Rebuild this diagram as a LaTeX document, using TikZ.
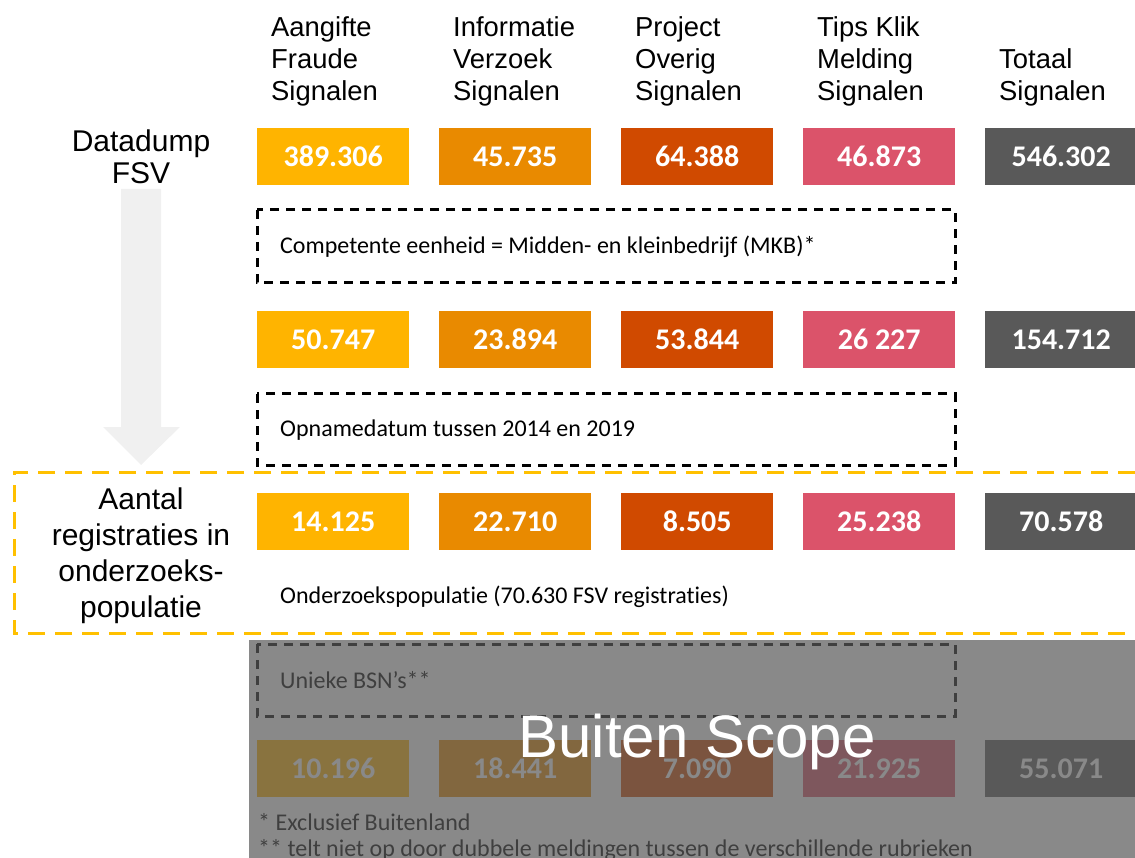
\documentclass[tikz,border=0pt]{standalone}
\usepackage{fontspec}
\setmainfont{Liberation Sans}
\newfontfamily\calibri[Ligatures=NoCommon]{Carlito}
\usetikzlibrary{positioning}

\definecolor{fsvgeel}{HTML}{FFB400}
\definecolor{fsvoranje}{HTML}{E98A00}
\definecolor{fsvrood}{HTML}{D04A00}
\definecolor{fsvroze}{HTML}{DB536A}
\definecolor{fsvgrijs}{HTML}{595959}
\definecolor{kadergeel}{HTML}{FFC000}
\definecolor{pijlgrijs}{HTML}{F0F0F0}

\begin{document}
\begin{tikzpicture}[x=1pt, y=-1pt]
		\tikzset{
			getal/.style={anchor=north west, minimum width=152pt, minimum height=57pt, inner sep=0pt, text=white, font=\calibri\bfseries\fontsize{30}{32}\selectfont},
			kop/.style={anchor=west, align=left, inner sep=0pt, font=\fontsize{27.4}{32}\selectfont},
			label/.style={align=center, inner sep=0pt, font=\fontsize{30}{36}\selectfont},
			filter/.style={draw=black, line width=3pt, dash pattern=on 9pt off 7pt},
			filtertekst/.style={anchor=west, inner sep=0pt, font=\calibri\fontsize{24}{28}\selectfont},
			kader/.style={draw=kadergeel, line width=3pt, dash pattern=on 17pt off 10pt}
		}
		\useasboundingbox (0,0) rectangle (1135,858);

		% Arrow on the left
		\fill[pijlgrijs] (121,189) -- (161,189) -- (161,427) -- (180,427) -- (141,465) -- (103,427) -- (121,427) -- cycle;
		\node[label, font=\fontsize{30}{32}\selectfont] (datadump) at (141,157) {Datadump\\FSV};
		\node[label] (aantal) at (141,556) {Aantal\\registraties in\\onderzoeks-\\populatie};

		% Column headers
		\node[kop] (kop0) at (271,61) {Aangifte\\Fraude\\Signalen};
		\node[kop] (kop1) at (453,61) {Informatie\\Verzoek\\Signalen};
		\node[kop] (kop2) at (635,61) {Project\\Overig\\Signalen};
		\node[kop] (kop3) at (817,61) {Tips Klik\\Melding\\Signalen};
		\node[kop] (kop4) at (999,77) {Totaal\\Signalen};

		% Rows of counts
		\foreach \waarde/\kleur [count=\k from 0] in {389.306/fsvgeel, 45.735/fsvoranje, 64.388/fsvrood, 46.873/fsvroze, 546.302/fsvgrijs}
			\node[getal, fill=\kleur] (dump\k) at (257+182*\k,128) {\waarde};
		\foreach \waarde/\kleur [count=\k from 0] in {50.747/fsvgeel, 23.894/fsvoranje, 53.844/fsvrood, 26 227/fsvroze, 154.712/fsvgrijs}
			\node[getal, fill=\kleur] (mkb\k) at (257+182*\k,311) {\waarde};
		\foreach \waarde/\kleur [count=\k from 0] in {14.125/fsvgeel, 22.710/fsvoranje, 8.505/fsvrood, 25.238/fsvroze, 70.578/fsvgrijs}
			\node[getal, fill=\kleur] (populatie\k) at (257+182*\k,493) {\waarde};
		\foreach \waarde/\kleur [count=\k from 0] in {10.196/fsvgeel, 18.441/fsvoranje, 7.090/fsvrood, 21.925/fsvroze, 55.071/fsvgrijs}
			\node[getal, fill=\kleur] (bsn\k) at (257+182*\k,740) {\waarde};

		% Filters
		\draw[filter] (257,210) rectangle (955,283);
		\node[filtertekst] (mkb) at (280,247) {Competente eenheid = Midden- en kleinbedrijf (MKB)*};
		\draw[filter] (257,394) rectangle (955,465);
		\node[filtertekst] (datum) at (280,430) {Opnamedatum tussen 2014 en 2019};
		\draw[filter] (257,644) rectangle (955,716);
		\node[filtertekst] (uniek) at (280,680) {Unieke BSN’s**};

		% Research population
		\draw[kader] (1135,472) -- (14,472) -- (14,633) -- (1135,633);
		\node[filtertekst] (onderzoek) at (280,597) {Onderzoekspopulatie (70.630 FSV registraties)};

		% Footnotes
		\node[filtertekst] (voet1) at (258,822) {* Exclusief Buitenland};
		\node[filtertekst] (voet2) at (258,850) {** telt niet op door dubbele meldingen tussen de verschillende rubrieken};

		% Out of scope overlay
		\fill[black!65, fill opacity=0.71] (249,640) rectangle (1135,858);
		\node[font=\fontsize{60}{60}\selectfont, text=white, inner sep=0pt] (scope) at (697,742) {Buiten Scope};

	\end{tikzpicture}
\end{document}
